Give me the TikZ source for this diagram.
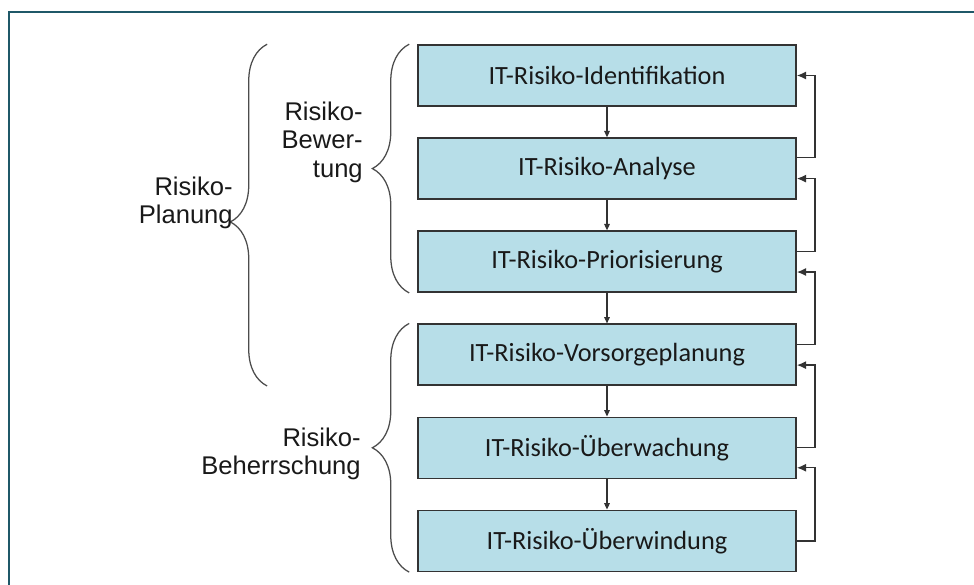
\documentclass[tikz,border=0pt]{standalone}
\usepackage{fontspec}
\setmainfont{Carlito}
\newfontfamily\labelfont{Liberation Sans}
\usetikzlibrary{positioning,arrows.meta,decorations.pathreplacing}

\definecolor{boxfill}{HTML}{B7DEE8}
\definecolor{boxline}{HTML}{333333}
\definecolor{framecol}{HTML}{1F5868}

\begin{document}
\begin{tikzpicture}[x=0.025cm, y=-0.025cm,
  stepbox/.style={rectangle, draw=boxline, line width=1.1pt, fill=boxfill, minimum width=9.45cm, minimum height=1.525cm, font=\fontsize{18.7}{20}\selectfont, text=black!90},
  down/.style={-{Triangle[length=1.6mm,width=1.4mm]}, line width=0.85pt, draw=boxline},
  back/.style={-{Latex[length=2.3mm,width=2mm]}, line width=0.95pt, draw=boxline},
  bracedeco/.style={decorate, decoration={brace, amplitude=0.92cm, aspect=#1}, draw=black!70, line width=0.9pt},
  grouplabel/.style={align=right, inner sep=0pt, font=\labelfont\fontsize{18.2}{20}\selectfont, text=black!90},
  node distance=0.7625cm]
\useasboundingbox (0,0) rectangle (974,585);

% Frame
\draw[framecol, line width=1.8pt] (9,585) -- (9,12) -- (974,12);

% Process steps
\node[stepbox] (b1) at (607,75.5) {IT-Risiko-Identifikation};
\node[stepbox, below=of b1] (b2) {IT-Risiko-Analyse};
\node[stepbox, below=of b2] (b3) {IT-Risiko-Priorisierung};
\node[stepbox, below=of b3] (b4) {IT-Risiko-Vorsorgeplanung};
\node[stepbox, below=of b4] (b5) {IT-Risiko-Überwachung};
\node[stepbox, below=of b5] (b6) {IT-Risiko-Überwindung};

% Arrows down
\draw[down] (b1) -- (b2);
\draw[down] (b2) -- (b3);
\draw[down] (b3) -- (b4);
\draw[down] (b4) -- (b5);
\draw[down] (b5) -- (b6);

% Feedback arrows
\draw[back] ([yshift=0.275cm]b2.east) -- ++(0.45cm,0) |- (b1.east);
\draw[back] ([yshift=0.25cm]b3.east) -- ++(0.45cm,0) |- ([yshift=-0.25cm]b2.east);
\draw[back] ([yshift=0.26cm]b4.east) -- ++(0.45cm,0) |- ([yshift=-0.26cm]b3.east);
\draw[back] (b5.east) -- ++(0.45cm,0) |- ([yshift=-0.26cm]b4.east);
\draw[back] (b6.east) -- ++(0.45cm,0) |- ([yshift=-0.5cm]b5.east);

% Braces
\draw[bracedeco=0.48] ([xshift=-3.75cm]b4.south west) -- ([xshift=-3.75cm]b1.north west);
\draw[bracedeco=0.5] ([xshift=-0.2cm]b3.south west) -- ([xshift=-0.2cm]b1.north west);
\draw[bracedeco=0.5] ([xshift=-0.2cm]b6.south west) -- ([xshift=-0.2cm]b4.north west);

% Labels
\node[grouplabel, anchor=north east] (planung) at (233,177) {Risiko-\\Planung};
\node[grouplabel, anchor=north east] (bewertung) at (363,102) {Risiko-\\Bewer-\\tung};
\node[grouplabel, anchor=north east] (beherrschung) at (361,428) {Risiko-\\Beherrschung};

\end{tikzpicture}
\end{document}
